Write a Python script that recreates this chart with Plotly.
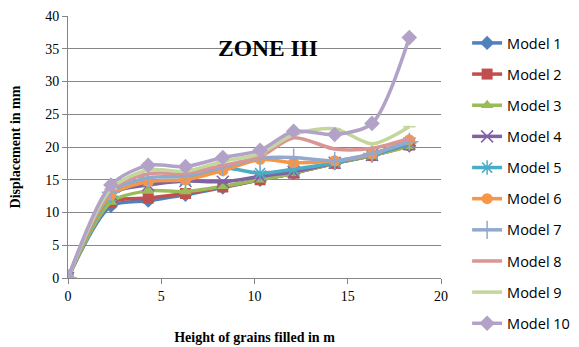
import plotly.graph_objects as go

heights = [0, 2.3, 4.3, 6.3, 8.3, 10.3, 12.1, 14.3, 16.3, 18.3]

model_1 = [0, 11.0, 11.8, 12.7, 13.8, 15.0, 16.0, 17.5, 18.7, 20.2]
model_2 = [0, 11.5, 12.2, 12.9, 13.9, 15.0, 16.0, 17.5, 18.7, 20.3]
model_3 = [0, 11.6, 13.3, 13.2, 14.0, 15.0, 16.0, 17.5, 18.7, 20.1]
model_4 = [0, 12.8, 14.2, 14.8, 14.7, 15.5, 16.2, 17.6, 18.8, 20.5]
model_5 = [0, 12.5, 14.8, 15.0, 16.8, 16.0, 16.6, 17.6, 18.8, 20.6]
model_6 = [0, 12.7, 14.7, 15.0, 16.4, 18.1, 17.6, 17.9, 18.9, 21.1]
model_7 = [0, 13.1, 15.3, 15.6, 16.9, 18.3, 18.4, 17.9, 19.0, 20.8]
model_8 = [0, 13.4, 15.9, 16.0, 17.2, 18.5, 21.4, 19.7, 19.8, 21.3]
model_9 = [0, 13.6, 16.5, 16.3, 17.8, 19.0, 21.9, 22.8, 20.5, 23.1]
model_10 = [0, 14.2, 17.2, 17.0, 18.4, 19.5, 22.4, 21.9, 23.6, 36.7]

names = ["Model 1", "Model 2", "Model 3", "Model 4", "Model 5",
         "Model 6", "Model 7", "Model 8", "Model 9", "Model 10"]
series = [model_1, model_2, model_3, model_4, model_5,
          model_6, model_7, model_8, model_9, model_10]
colors = ["#4F81BD", "#C0504D", "#9BBB59", "#8064A2", "#4BACC6",
          "#F79646", "#92A9CF", "#D99694", "#C3D69B", "#B3A2C7"]
symbols = ["diamond", "square", "triangle-up", "x-thin", "asterisk",
           "circle", "cross-thin", "line-ew", "line-ew", "diamond"]
msizes = [11, 11, 11, 12, 12, 11, 13, 9, 9, 12]

fig = go.Figure()
for i, (n, ys) in enumerate(zip(names, series)):
    thin = symbols[i] in ("x-thin", "asterisk", "cross-thin", "line-ew")
    fig.add_trace(go.Scatter(
        x=heights, y=ys, name=n, mode="lines+markers",
        line=dict(color=colors[i], width=3.5, shape="spline", smoothing=0.8),
        marker=dict(symbol=symbols[i], size=msizes[i], color=colors[i],
                    line=dict(color=colors[i], width=1.5 if thin else 0)),
        legendgroup=n,
    ))

fig.add_annotation(text="ZONE III", x=0.536, y=0.935, xref="paper", yref="paper",
                   showarrow=False,
                   font=dict(family="Liberation Serif", size=23.5, color="black", weight="bold"))

# page body has an 8px default margin, so the figure is drawn 8px in from the corner
fig.update_layout(
    width=579, height=339,
    margin=dict(l=60, r=146, t=8, b=69, autoexpand=False),
    paper_bgcolor="white", plot_bgcolor="white",
    font=dict(family="Liberation Serif", color="black"),
    legend=dict(x=1.07, y=0.958, xanchor="left", yanchor="top",
                font=dict(family="Open Sans", size=14.5, color="black"),
                tracegroupgap=9.3, itemwidth=30, maxheight=400),
    xaxis=dict(range=[0, 20], dtick=5, showgrid=False, showline=True,
               linecolor="#868686", linewidth=1, ticks="outside", ticklen=5,
               tickcolor="#868686", tickfont=dict(size=14, family="Liberation Serif"),
               zeroline=False, automargin=False,
               title=dict(text="<b>Height of grains filled in m</b>",
                          font=dict(size=14, family="Liberation Serif"), standoff=29)),
    yaxis=dict(range=[0, 40], dtick=5, showgrid=True, gridcolor="#868686",
               gridwidth=1, showline=True, linecolor="#868686", ticks="outside",
               ticklen=5, tickcolor="#868686", zeroline=False, automargin=False,
               tickfont=dict(size=14, family="Liberation Serif"),
               title=dict(text="<b>Displacement in mm</b>",
                          font=dict(size=14, family="Liberation Serif"), standoff=24)),
)

fig.write_html("out.html")
